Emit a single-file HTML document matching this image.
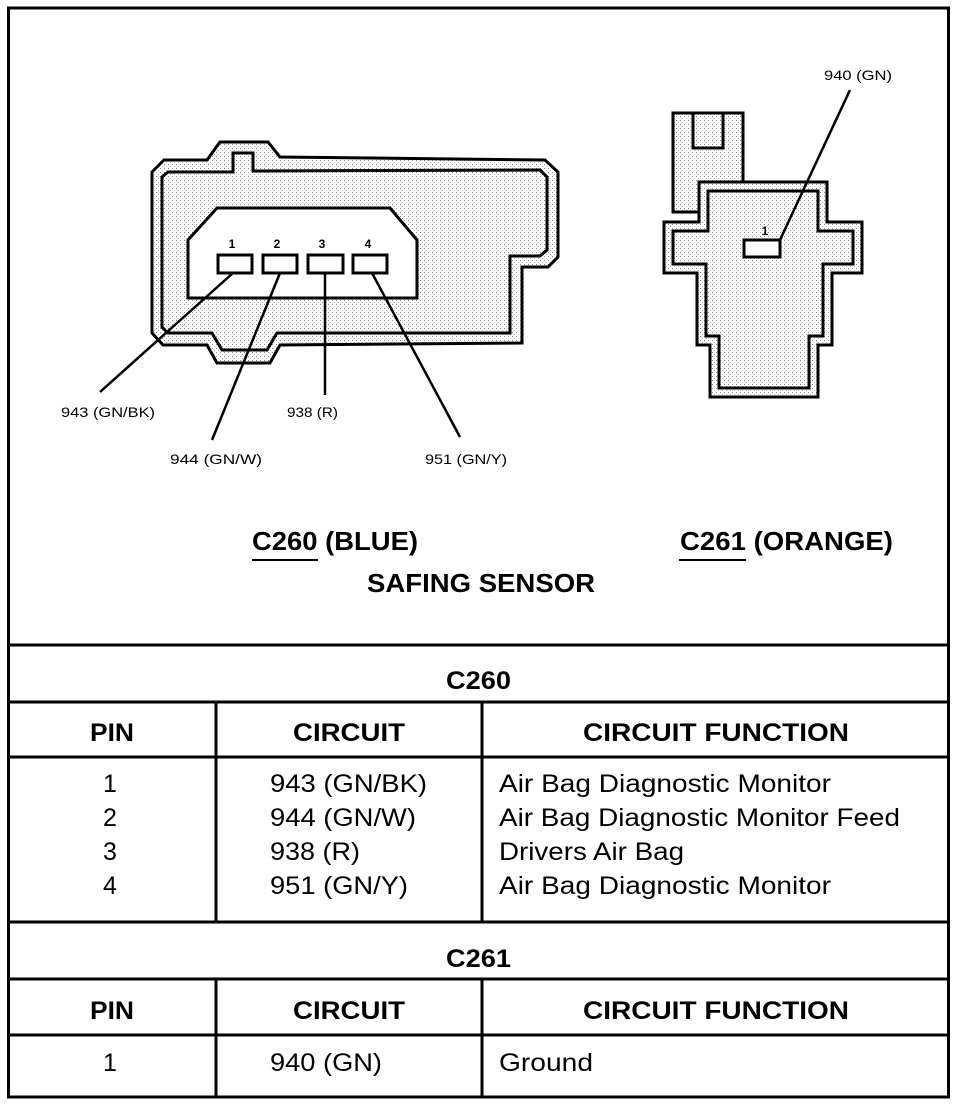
<!DOCTYPE html>
<html><head><meta charset="utf-8"><style>
html,body{margin:0;padding:0;background:#fff}
svg{display:block}
text{font-family:"Liberation Sans",Arial,sans-serif;fill:#000}
</style></head><body>
<svg width="960" height="1108" viewBox="0 0 960 1108" xmlns="http://www.w3.org/2000/svg">
<defs>
<pattern id="dots" width="4" height="4" patternUnits="userSpaceOnUse">
<rect width="4" height="4" fill="#fff"/>
<rect x="0" y="0" width="1" height="1" fill="#888"/>
<rect x="2" y="2" width="1" height="1" fill="#bbb"/>
</pattern>
</defs>
<rect x="8.5" y="8" width="940" height="1089" fill="none" stroke="#000" stroke-width="3"/>

<g stroke="#000" stroke-width="3" stroke-linejoin="miter">
<path d="M152,172 L164,160 L207,160 L220,142 L268,142 L280,157 L545,160 L558,172 L558,257 L548,267 L522,267 L522,343 L280,345 L270,363 L217,363 L207,345 L163,345 L152,333 Z" fill="url(#dots)"/>
<path d="M162,177 L168,172 L233,172 L233,153 L253,153 L253,171 L540,170 L547,177 L547,250 L540,256 L510,256 L510,333 L277,333 L267,350 L222,350 L212,333 L168,333 L162,327 Z" fill="url(#dots)"/>
<path d="M188,240 L217,208 L390,208 L417,240 L417,298 L188,298 Z" fill="#fff"/>
<rect x="218" y="255" width="34" height="18" fill="#fff"/>
<rect x="263" y="255" width="34" height="18" fill="#fff"/>
<rect x="308" y="255" width="35" height="18" fill="#fff"/>
<rect x="353" y="255" width="34" height="18" fill="#fff"/>
<line x1="233" y1="273" x2="100" y2="392" stroke-width="2.5"/>
<line x1="280" y1="273" x2="212" y2="440" stroke-width="2.5"/>
<line x1="325" y1="273" x2="325" y2="395" stroke-width="2.5"/>
<line x1="372" y1="273" x2="460" y2="437" stroke-width="2.5"/>
</g>
<g font-size="12" font-weight="bold" text-anchor="middle">
<text x="232" y="248">1</text><text x="277" y="248">2</text><text x="322" y="248">3</text><text x="368" y="248">4</text>
</g>
<g font-size="14">
<text x="61" y="417" textLength="94" lengthAdjust="spacingAndGlyphs">943 (GN/BK)</text>
<text x="170" y="464" textLength="92" lengthAdjust="spacingAndGlyphs">944 (GN/W)</text>
<text x="287" y="417" textLength="51" lengthAdjust="spacingAndGlyphs">938 (R)</text>
<text x="425" y="464" textLength="82" lengthAdjust="spacingAndGlyphs">951 (GN/Y)</text>
<text x="824" y="80" textLength="68" lengthAdjust="spacingAndGlyphs">940 (GN)</text>
</g>

<g stroke="#000" stroke-width="3">
<rect x="673" y="113" width="70" height="99" fill="url(#dots)"/>
<rect x="693" y="113" width="30" height="35" fill="url(#dots)"/>
<path d="M699,182 L827,182 L827,222 L862,222 L862,273 L832,273 L832,345 L818,345 L818,397 L710,397 L710,345 L697,345 L697,273 L664,273 L664,222 L699,222 Z" fill="url(#dots)"/>
<path d="M708,191 L818,191 L818,231 L853,231 L853,264 L823,264 L823,336 L809,336 L809,388 L719,388 L719,336 L706,336 L706,264 L673,264 L673,231 L708,231 Z" fill="url(#dots)"/>
<rect x="744" y="240" width="36" height="17" fill="#fff"/>
<line x1="780" y1="240" x2="850" y2="90" stroke-width="2.5"/>
</g>
<text x="765" y="235" font-size="12" font-weight="bold" text-anchor="middle">1</text>

<g font-size="26" font-weight="bold">
<text x="252" y="550" textLength="166" lengthAdjust="spacingAndGlyphs">C260 (BLUE)</text>
<text x="680" y="550" textLength="213" lengthAdjust="spacingAndGlyphs">C261 (ORANGE)</text>
<text x="367" y="592" textLength="228" lengthAdjust="spacingAndGlyphs">SAFING SENSOR</text>
</g>
<line x1="252" y1="560" x2="318" y2="560" stroke="#000" stroke-width="2"/>
<line x1="679" y1="560" x2="746" y2="560" stroke="#000" stroke-width="2"/>

<g stroke="#000" stroke-width="3">
<line x1="8" y1="645" x2="948" y2="645"/>
<line x1="8" y1="702" x2="948" y2="702"/>
<line x1="8" y1="757" x2="948" y2="757"/>
<line x1="8" y1="922" x2="948" y2="922"/>
<line x1="8" y1="979" x2="948" y2="979"/>
<line x1="8" y1="1035" x2="948" y2="1035"/>
<line x1="216" y1="702" x2="216" y2="922"/>
<line x1="482" y1="702" x2="482" y2="922"/>
<line x1="216" y1="979" x2="216" y2="1097"/>
<line x1="482" y1="979" x2="482" y2="1097"/>
</g>
<g font-size="25" font-weight="bold">
<text x="446" y="689" textLength="65" lengthAdjust="spacingAndGlyphs">C260</text>
<text x="90" y="741" textLength="44" lengthAdjust="spacingAndGlyphs">PIN</text>
<text x="293" y="741" textLength="112" lengthAdjust="spacingAndGlyphs">CIRCUIT</text>
<text x="583" y="741" textLength="266" lengthAdjust="spacingAndGlyphs">CIRCUIT FUNCTION</text>
<text x="446" y="967" textLength="65" lengthAdjust="spacingAndGlyphs">C261</text>
<text x="90" y="1019" textLength="44" lengthAdjust="spacingAndGlyphs">PIN</text>
<text x="293" y="1019" textLength="112" lengthAdjust="spacingAndGlyphs">CIRCUIT</text>
<text x="583" y="1019" textLength="266" lengthAdjust="spacingAndGlyphs">CIRCUIT FUNCTION</text>
</g>
<g font-size="25">
<g text-anchor="middle">
<text x="110" y="792">1</text><text x="110" y="826">2</text><text x="110" y="860">3</text><text x="110" y="894">4</text>
<text x="110" y="1071">1</text>
</g>
<text x="270" y="792" textLength="157" lengthAdjust="spacingAndGlyphs">943 (GN/BK)</text>
<text x="270" y="826" textLength="146" lengthAdjust="spacingAndGlyphs">944 (GN/W)</text>
<text x="270" y="860" textLength="90" lengthAdjust="spacingAndGlyphs">938 (R)</text>
<text x="270" y="894" textLength="138" lengthAdjust="spacingAndGlyphs">951 (GN/Y)</text>
<text x="270" y="1071" textLength="112" lengthAdjust="spacingAndGlyphs">940 (GN)</text>
<text x="499" y="792" textLength="332" lengthAdjust="spacingAndGlyphs">Air Bag Diagnostic Monitor</text>
<text x="499" y="826" textLength="401" lengthAdjust="spacingAndGlyphs">Air Bag Diagnostic Monitor Feed</text>
<text x="499" y="860" textLength="185" lengthAdjust="spacingAndGlyphs">Drivers Air Bag</text>
<text x="499" y="894" textLength="332" lengthAdjust="spacingAndGlyphs">Air Bag Diagnostic Monitor</text>
<text x="499" y="1071" textLength="94" lengthAdjust="spacingAndGlyphs">Ground</text>
</g>
</svg>
</body></html>
